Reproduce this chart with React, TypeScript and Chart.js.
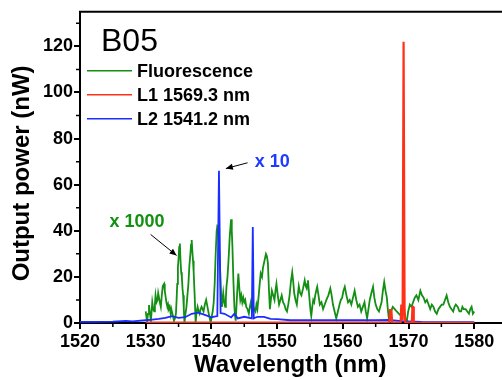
import React, { useEffect, useRef } from 'react';
import { Chart, registerables } from 'chart.js';

Chart.register(...registerables);

// ---- Data ----
const fluoX = [
  1530.0, 1530.1, 1530.2, 1530.35, 1530.5, 1530.65, 1530.8, 1530.9, 1531.0, 1531.15,
  1531.3, 1531.4, 1531.5, 1531.65, 1531.8, 1531.9, 1532.0, 1532.15, 1532.3, 1532.45,
  1532.6, 1532.8, 1532.9, 1533.0, 1533.15, 1533.3, 1533.4, 1533.5, 1533.65, 1533.8,
  1533.9, 1534.0, 1534.15, 1534.3, 1534.45, 1534.6, 1534.7, 1534.8, 1534.9, 1535.0,
  1535.1, 1535.2, 1535.3, 1535.4, 1535.5, 1535.6, 1535.7, 1535.8, 1535.9, 1536.05,
  1536.2, 1536.35, 1536.5, 1536.65, 1536.8, 1536.9, 1537.0, 1537.1, 1537.2, 1537.3,
  1537.45, 1537.6, 1537.75, 1537.9, 1538.05, 1538.2, 1538.35, 1538.5, 1538.65, 1538.8,
  1539.0, 1539.2, 1539.4, 1539.6, 1539.75, 1539.9, 1540.05, 1540.2, 1540.35, 1540.5,
  1540.65, 1540.8, 1540.9, 1541.0, 1541.15, 1541.3, 1541.45, 1541.6, 1541.7, 1541.8,
  1541.95, 1542.1, 1542.2, 1542.3, 1542.45, 1542.6, 1542.8, 1543.0, 1543.1, 1543.2,
  1543.35, 1543.5, 1543.6, 1543.7, 1543.9, 1544.1, 1544.25, 1544.4, 1544.55, 1544.7,
  1544.85, 1545.0, 1545.15, 1545.3, 1545.5, 1545.7, 1545.85, 1546.0, 1546.15, 1546.3,
  1546.5, 1546.7, 1546.85, 1547.0, 1547.2, 1547.35, 1547.5, 1547.7, 1547.85, 1548.0,
  1548.15, 1548.3, 1548.45, 1548.6, 1548.75, 1548.9, 1549.05, 1549.2, 1549.4, 1549.6,
  1549.75, 1549.9, 1550.1, 1550.3, 1550.5, 1550.7, 1550.9, 1551.1, 1551.3, 1551.5,
  1551.7, 1551.9, 1552.1, 1552.3, 1552.45, 1552.6, 1552.8, 1553.0, 1553.15, 1553.3,
  1553.5, 1553.7, 1553.95, 1554.2, 1554.35, 1554.5, 1554.6, 1554.7, 1554.85, 1555.0,
  1555.1, 1555.2, 1555.35, 1555.5, 1555.65, 1555.8, 1555.95, 1556.1, 1556.3, 1556.5,
  1556.75, 1557.0, 1557.25, 1557.5, 1557.8, 1558.1, 1558.3, 1558.5, 1558.75, 1559.0,
  1559.25, 1559.5, 1559.7, 1559.9, 1560.1, 1560.3, 1560.55, 1560.8, 1561.05, 1561.3,
  1561.55, 1561.8, 1562.05, 1562.3, 1562.55, 1562.8, 1563.05, 1563.3, 1563.5, 1563.7,
  1563.9, 1564.1, 1564.35, 1564.6, 1564.8, 1565.0, 1565.25, 1565.5, 1565.7, 1565.9,
  1566.1, 1566.3, 1566.5, 1566.7, 1566.85, 1567.0, 1567.3, 1567.6, 1567.9, 1568.2,
  1568.55, 1568.9, 1569.1, 1569.3, 1569.5, 1569.7, 1569.95, 1570.2, 1570.45, 1570.7,
  1570.95, 1571.2, 1571.35, 1571.5, 1571.65, 1571.8, 1572.05, 1572.3, 1572.55, 1572.8,
  1573.05, 1573.3, 1573.55, 1573.8, 1574.05, 1574.3, 1574.55, 1574.8, 1575.05, 1575.3,
  1575.55, 1575.8, 1576.05, 1576.3, 1576.55, 1576.8, 1577.0, 1577.2, 1577.5, 1577.75,
  1578.0, 1578.2, 1578.4, 1578.7, 1578.95, 1579.2, 1579.4, 1579.6, 1579.8, 1580.0,
];
const fluoY = [
  5, 3, 0.5, 4, 7.8, 4, 1, 5, 9, 6,
  5, 8, 12, 9, 10, 13, 13, 9, 7, 12,
  16, 17, 14, 12, 9, 7, 8, 6, 7, 4,
  6, 6, 3, 1, 2, 4, 10, 17, 24, 28,
  33, 34.5, 27, 22, 20, 15, 12, 6, 0, 4,
  7, 12, 17, 25, 30, 34, 36, 31, 27, 22,
  12, 0, 5, 7, 5, 4, 6, 7, 6, 5,
  8, 10, 7, 4, 2, 0, 3, 5, 9, 17,
  30, 40, 42, 41.6, 33, 25, 14, 7, 10, 13,
  9, 7, 11, 16, 20, 27, 38, 45, 40, 33,
  18, 7, 3, 1, 12, 21.5, 15, 10, 12, 9,
  11, 9, 10, 7, 6, 4, 7, 9, 6, 8,
  6, 5, 8, 6, 12, 17, 21.5, 20, 24, 26,
  28, 30, 29, 26, 15, 6, 10, 14, 12, 10,
  14, 17, 12, 8, 10, 12, 9, 8, 6, 5,
  8, 12, 18, 22, 18, 13, 10, 8, 12, 16,
  13, 12, 15, 18.5, 16, 15, 17, 18.5, 13, 8,
  5, 3, 7, 10, 9, 12, 14, 15.7, 12, 8,
  9, 6, 8, 10, 12, 15, 12, 8, 5, 2,
  5, 8, 10, 11, 14, 15.7, 12, 9, 10, 8,
  11, 14, 10, 7, 8, 5, 7, 9, 5, 2,
  6, 10, 13, 15.7, 11, 8, 6, 5, 7, 9,
  14, 17.8, 14, 11, 6, 2, 5, 7, 6, 5,
  4, 3, 5, 6, 2, 0, 5, 8, 7, 9,
  11, 12, 11, 10, 12, 14, 12, 11, 9, 10,
  8, 6, 8, 7, 5, 4, 6, 7, 8, 8,
  10, 12, 9, 7, 6, 5, 7, 8, 7, 5,
  5, 7, 6, 6, 5, 4, 6, 7, 4, 5,
];

const l1X = [
  1530.0, 1540.0, 1550.0, 1560.0, 1567.1, 1567.2, 1567.4, 1567.5, 1568.8, 1568.9,
  1569.0, 1569.1, 1569.25, 1569.4, 1569.5, 1570.5, 1570.6, 1570.7, 1570.8, 1580.0,
];
const l1Y = [
  0.2, 0.2, 0.2, 0.2, 0.2, 5.6, 5.6, 0.2, 0.3, 8,
  3, 1, 122, 6, 0.3, 0.2, 7, 7, 0.2, 0.1,
];

const l2X = [
  1520, 1522, 1525, 1527, 1528, 1530, 1531, 1532, 1533, 1534,
  1535, 1536, 1537, 1538, 1539, 1540, 1540.9, 1541.15, 1541.4, 1542,
  1543, 1543.5, 1544, 1545, 1546.15, 1546.3, 1546.45, 1547, 1548, 1549,
  1550, 1552, 1555, 1560, 1565, 1567, 1569, 1572, 1576, 1580,
];
const l2Y = [
  0.5, 0.5, 0.6, 0.9, 0.7, 1.2, 1.5, 1.8, 2.2, 3,
  2.2, 2.5, 4, 4.5, 3.5, 2.5, 3, 66, 4.3, 4,
  2.4, 4, 2, 2.7, 2, 41.6, 2, 2.7, 2.7, 1.8,
  1.7, 1.2, 1.2, 1.2, 1.2, 1.3, 0.8, 0.5, 0.4, 0.4,
];

const seriesLabels = ['Fluorescence', 'L1 1569.3 nm', 'L2 1541.2 nm'];
const seriesColors = ['#138f13', '#ff3018', '#1a2eff'];

const xMajorStep = 10;
const yMajorStep = 20;
const xMinorTicks = [1525, 1535, 1545, 1555, 1565, 1575];
const yMinorTicks = [10, 30, 50, 70, 90, 110, 130];

const FONT = '"Liberation Sans", Arial, sans-serif';

const toPts = (xs: number[], ys: number[]) => xs.map((x, i) => ({ x, y: ys[i] }));

function arrow(ctx: CanvasRenderingContext2D, x1: number, y1: number, x2: number, y2: number) {
  ctx.beginPath();
  ctx.moveTo(x1, y1);
  ctx.lineTo(x2, y2);
  ctx.stroke();
  const a = Math.atan2(y2 - y1, x2 - x1);
  const L = 7, W = 3;
  ctx.beginPath();
  ctx.moveTo(x2, y2);
  ctx.lineTo(x2 - L * Math.cos(a) + W * Math.sin(a), y2 - L * Math.sin(a) - W * Math.cos(a));
  ctx.lineTo(x2 - L * Math.cos(a) - W * Math.sin(a), y2 - L * Math.sin(a) + W * Math.cos(a));
  ctx.closePath();
  ctx.fill();
}

const decorPlugin = {
  id: 'decor',
  afterDraw(chart: any) {
    const { ctx, chartArea: ca, scales } = chart;
    const xs = scales.x, ys = scales.y;
    ctx.save();
    // top frame
    ctx.strokeStyle = '#000';
    ctx.lineWidth = 2;
    ctx.beginPath();
    ctx.moveTo(ca.left - 1, ca.top);
    ctx.lineTo(chart.width + 2, ca.top);
    ctx.stroke();
    // minor ticks
    ctx.lineWidth = 1.5;
    ctx.beginPath();
    for (const v of xMinorTicks) {
      const px = xs.getPixelForValue(v);
      ctx.moveTo(px, ca.bottom);
      ctx.lineTo(px, ca.bottom + 4);
    }
    for (const v of yMinorTicks) {
      const py = ys.getPixelForValue(v);
      ctx.moveTo(ca.left, py);
      ctx.lineTo(ca.left - 4, py);
    }
    ctx.stroke();

    // y axis title
    ctx.save();
    ctx.fillStyle = '#000';
    ctx.font = `bold 24px ${FONT}`;
    ctx.textAlign = 'center';
    ctx.textBaseline = 'middle';
    ctx.translate(22, (ca.top + ca.bottom) / 2 + 6);
    ctx.rotate(-Math.PI / 2);
    ctx.fillText('Output power (nW)', 0, 0);
    ctx.restore();

    // title B05
    ctx.fillStyle = '#000';
    ctx.font = `32px ${FONT}`;
    ctx.textBaseline = 'alphabetic';
    ctx.textAlign = 'left';
    ctx.fillText('B05', ca.left + 21, ca.top + 39);

    // legend
    ctx.font = `bold 18px ${FONT}`;
    ctx.textBaseline = 'middle';
    seriesLabels.forEach((lab, i) => {
      const yy = ca.top + 59 + i * 24;
      ctx.strokeStyle = seriesColors[i];
      ctx.lineWidth = 1.5;
      ctx.beginPath();
      ctx.moveTo(ca.left + 7, yy);
      ctx.lineTo(ca.left + 52, yy);
      ctx.stroke();
      ctx.fillStyle = '#000';
      ctx.fillText(lab, ca.left + 57, yy + 1);
    });

    // annotations
    ctx.font = `bold 18px ${FONT}`;
    ctx.fillStyle = '#1e3cff';
    ctx.fillText('x 10', xs.getPixelForValue(1546.6), ys.getPixelForValue(70));
    ctx.fillStyle = '#129012';
    ctx.fillText('x 1000', xs.getPixelForValue(1524.5), ys.getPixelForValue(44));
    ctx.strokeStyle = '#000';
    ctx.fillStyle = '#000';
    ctx.lineWidth = 1;
    arrow(ctx, xs.getPixelForValue(1545.5), ys.getPixelForValue(69.5), xs.getPixelForValue(1542.2), ys.getPixelForValue(67));
    arrow(ctx, xs.getPixelForValue(1530.75), ys.getPixelForValue(38.4), xs.getPixelForValue(1534.7), ys.getPixelForValue(29.3));
    ctx.restore();
  },
};

export default function App() {
  const ref = useRef<HTMLCanvasElement | null>(null);
  useEffect(() => {
    if (!ref.current) return;
    const ds = (i: number, xs: number[], ys: number[], order: number, w: number) => ({
      label: seriesLabels[i],
      data: toPts(xs, ys),
      borderColor: seriesColors[i],
      backgroundColor: seriesColors[i],
      borderWidth: w,
      pointRadius: 0,
      tension: 0,
      fill: false,
      order,
    });
    const chart = new Chart(ref.current, {
      type: 'line',
      data: {
        datasets: [
          ds(0, fluoX, fluoY, 2, 1.8),
          ds(1, l1X, l1Y, 0, 2.2),
          ds(2, l2X, l2Y, 1, 1.8),
        ],
      },
      options: {
        animation: false,
        responsive: false,
        layout: { padding: { top: 11, right: 1.5, left: 0, bottom: 0 } },
        plugins: { legend: { display: false }, tooltip: { enabled: false } },
        scales: {
          x: {
            type: 'linear',
            min: 1520,
            max: 1584,
            afterFit: (s: any) => { s.height = 57; },
            ticks: {
              stepSize: xMajorStep,
              includeBounds: false,
              color: '#000',
              padding: 2,
              maxRotation: 0,
              font: { family: FONT, size: 18, weight: 'bold' },
              callback: (v: any) => String(v),
            },
            grid: { drawOnChartArea: false, drawTicks: true, tickLength: 6, color: '#000', lineWidth: 2 },
            border: { display: true, color: '#000', width: 2 },
            title: {
              display: true,
              text: 'Wavelength (nm)',
              color: '#000',
              font: { family: FONT, size: 24, weight: 'bold' },
              padding: { top: 0, bottom: 0 },
            },
          },
          y: {
            type: 'linear',
            min: 0,
            max: 135,
            afterFit: (s: any) => { s.width = 80; },
            ticks: {
              stepSize: yMajorStep,
              includeBounds: false,
              color: '#000',
              padding: 1,
              font: { family: FONT, size: 18, weight: 'bold' },
              callback: (v: any) => String(v),
            },
            grid: { drawOnChartArea: false, drawTicks: true, tickLength: 6, color: '#000', lineWidth: 2 },
            border: { display: true, color: '#000', width: 2 },
            title: { display: false },
          },
        },
      },
      plugins: [decorPlugin],
    });
    return () => chart.destroy();
  }, []);
  return (
    <div style={{ position: 'absolute', left: 0, top: 0, width: 502, height: 380, background: '#fff' }}>
      <canvas ref={ref} width={502} height={380} />
    </div>
  );
}
